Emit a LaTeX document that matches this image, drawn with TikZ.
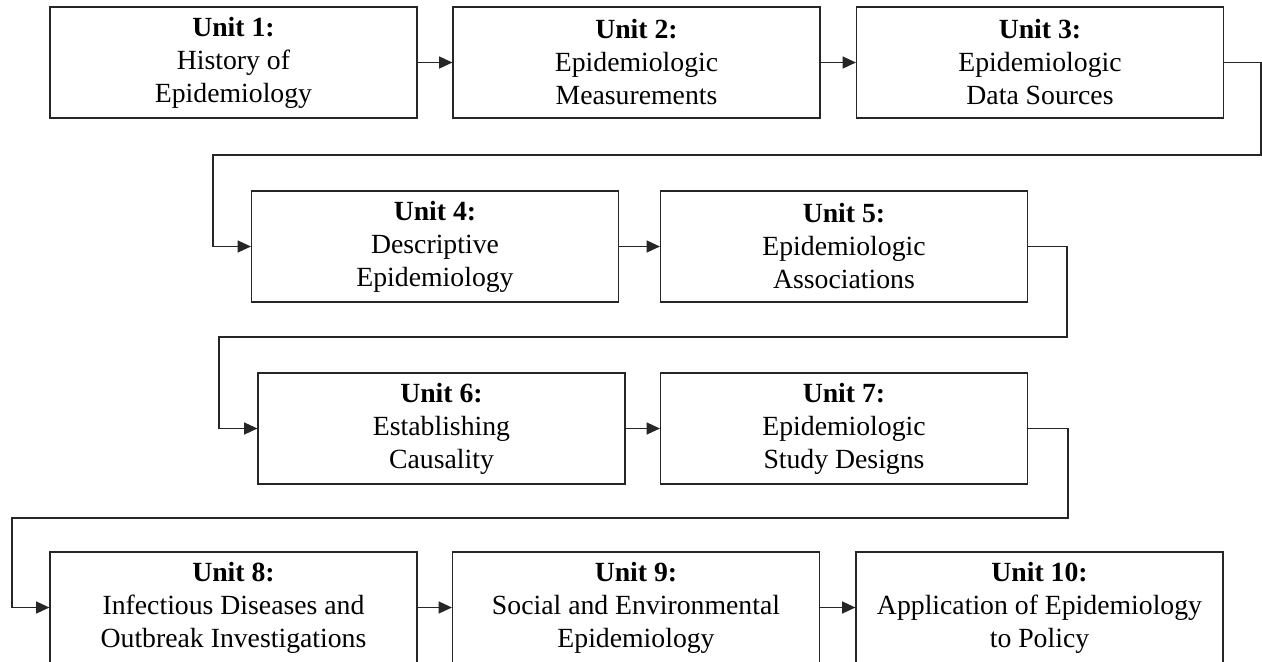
\documentclass[tikz,border=0pt]{standalone}
\usepackage{fontspec}
\setmainfont{Liberation Serif}
\usetikzlibrary{arrows.meta}
\usetikzlibrary{positioning}

\begin{document}
\begin{tikzpicture}[line cap=rect,line join=miter,>={Triangle[length=10pt,width=9pt]},x=0.75pt,y=-0.75pt,
  unitbox/.style={draw=black!85,line width=1.1pt,fill=white,minimum width=275pt,minimum height=83pt,
    align=center,inner sep=2pt,font=\fontsize{20.8}{24.75}\selectfont},
  link/.style={->,line width=1.1pt,draw=black!85}]
\clip(0,0) rectangle (1262,661);
% first row
\node[unitbox] (u1) at (233.5,62.5) {\textbf{Unit 1:}\\History of\\Epidemiology};
\node[unitbox] (u2) at (636.5,62.5) {\textbf{Unit 2:}\\Epidemiologic\\Measurements};
\node[unitbox] (u3) at (1040,62.5) {\textbf{Unit 3:}\\Epidemiologic\\Data Sources};
% second row
\node[unitbox] (u4) at (435,246.5) {\textbf{Unit 4:}\\Descriptive\\Epidemiology};
\node[unitbox] (u5) at (844,246.5) {\textbf{Unit 5:}\\Epidemiologic\\Associations};
% third row
\node[unitbox] (u6) at (441.5,428.5) {\textbf{Unit 6:}\\Establishing\\Causality};
\node[unitbox] (u7) at (844,428.5) {\textbf{Unit 7:}\\Epidemiologic\\Study Designs};
% fourth row
\node[unitbox] (u8) at (233.5,607.5) {\textbf{Unit 8:}\\Infectious Diseases and\\Outbreak Investigations};
\node[unitbox] (u9) at (636,607.5) {\textbf{Unit 9:}\\Social and Environmental\\Epidemiology};
\node[unitbox] (u10) at (1039.5,607.5) {\textbf{Unit 10:}\\Application of Epidemiology\\to Policy};
% bends
\coordinate (b3) at (1261,155);
\coordinate (b4) at (213,155);
\coordinate (b5) at (1067,337);
\coordinate (b6) at (219,337);
\coordinate (b7) at (1068,518);
\coordinate (b8) at (12,518);
% links
\draw[link] (u1) -- (u2);
\draw[link] (u2) -- (u3);
\draw[link] (u3.east) -| (b3) -- (b4) |- (u4.west);
\draw[link] (u4) -- (u5);
\draw[link] (u5.east) -| (b5) -- (b6) |- (u6.west);
\draw[link] (u6) -- (u7);
\draw[link] (u7.east) -| (b7) -- (b8) |- (u8.west);
\draw[link] (u8) -- (u9);
\draw[link] (u9) -- (u10);
\end{tikzpicture}
\end{document}
